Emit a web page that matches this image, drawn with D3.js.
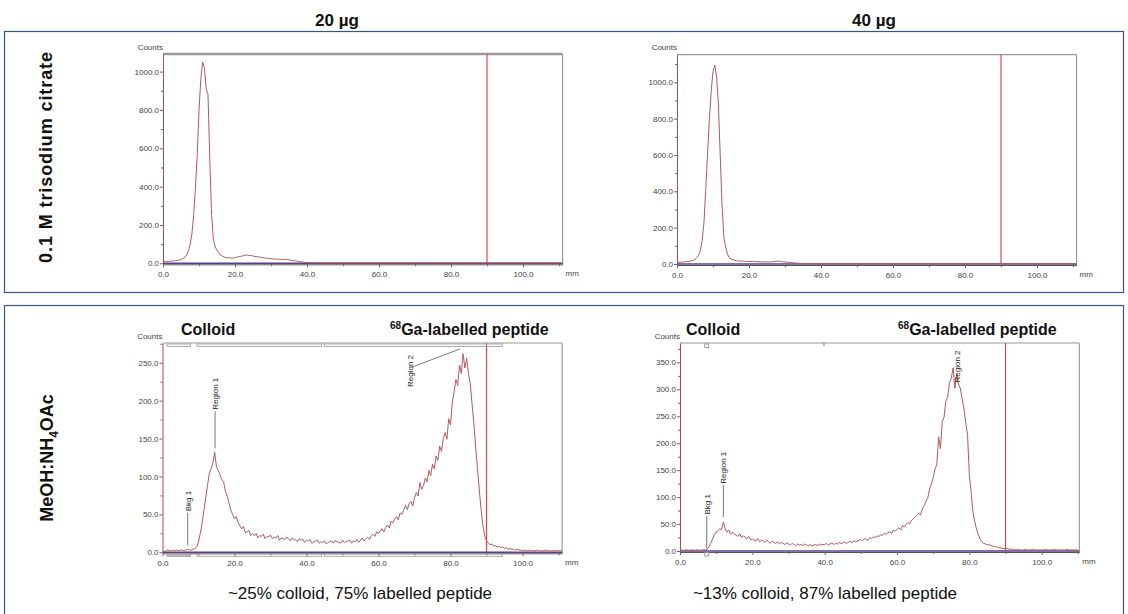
<!DOCTYPE html>
<html>
<head>
<meta charset="utf-8">
<script src="https://cdn.jsdelivr.net/npm/d3@7"></script>
<style>
body { margin: 0; background: #fff; }
svg { display: block; font-family: "Liberation Sans", Arial, sans-serif; }
</style>
</head>
<body>
<div id="chart"></div>
<script>
// strip position step (mm) between two readings
var step = 0.5;

var columnTitles = ["20 µg", "40 µg"];
var captions = ["~25% colloid, 75% labelled peptide", "~13% colloid, 87% labelled peptide"];
var xTicks = [0, 20, 40, 60, 80, 100];
var xMinorTicks = [10, 30, 50, 70, 90, 110];
var yTicksCitrate = [0, 200, 400, 600, 800, 1000];
var yTicksMeoh20 = [0, 50, 100, 150, 200, 250];
var yTicksMeoh40 = [0, 50, 100, 150, 200, 250, 300, 350];
var originLine = 90;

// regions of interest on the 20 µg MeOH:NH4OAc strip (mm)
var regions20 = [[1.3, 7.8], [9.6, 44.2], [44.9, 94.4]];
var bkg40 = 7.4, split40 = 39.8;

// counts read every 0.5 mm from 0 mm
var citrate20 = [
  8, 9, 10, 10, 11, 12, 12, 14, 15, 17,
  20, 24, 30, 42, 62, 95, 150, 250, 390, 560,
  800, 960, 1050, 1020, 910, 880, 540, 250, 125, 85,
  68, 55, 42, 38, 33, 30, 28, 30, 26, 27,
  30, 32, 34, 36, 38, 40, 44, 42, 40, 41,
  38, 36, 35, 33, 32, 30, 28, 27, 26, 25,
  24, 23, 22, 22, 21, 21, 20, 20, 21, 19,
  18, 16, 15, 13, 12, 10, 9, 7, 6, 5,
  4, 3, 3, 2, 3, 2, 2, 3, 2, 2,
  2, 2, 2, 2, 2, 2, 2, 2, 2, 2,
  2, 2, 2, 2, 2, 2, 2, 2, 2, 2,
  2, 2, 2, 2, 2, 2, 2, 2, 2, 2,
  2, 2, 2, 2, 2, 2, 2, 2, 2, 2,
  2, 2, 2, 2, 2, 2, 2, 2, 2, 2,
  2, 2, 2, 2, 2, 2, 2, 2, 2, 2,
  2, 2, 2, 2, 2, 2, 2, 2, 2, 2,
  2, 2, 2, 2, 2, 2, 2, 2, 2, 2,
  2, 2, 2, 2, 2, 2, 2, 2, 2, 2,
  2, 2, 2, 2, 2, 2, 2, 2, 2, 2,
  2, 2, 2, 2, 2, 2, 2, 2, 2, 2,
  2, 2, 2, 2, 2, 2, 2, 2, 2, 2,
  2, 2, 2, 2, 2, 2, 2, 2, 2, 2,
  2, 2, 2
];

var citrate40 = [
  8, 9, 10, 10, 12, 13, 14, 15, 18, 20,
  26, 35, 48, 75, 130, 230, 420, 610, 800, 950,
  1060, 1095, 1030, 880, 600, 330, 150, 95, 55, 35,
  28, 24, 20, 18, 17, 16, 15, 16, 14, 15,
  14, 13, 15, 13, 12, 13, 12, 11, 12, 11,
  12, 11, 12, 13, 12, 14, 16, 15, 13, 12,
  11, 10, 9, 8, 7, 6, 5, 4, 4, 3,
  3, 3, 2, 3, 2, 2, 2, 2, 2, 2,
  2, 2, 2, 2, 2, 2, 2, 2, 2, 2,
  2, 2, 2, 2, 2, 2, 2, 2, 2, 2,
  2, 2, 2, 2, 2, 2, 2, 2, 2, 2,
  2, 2, 2, 2, 2, 2, 2, 2, 2, 2,
  2, 2, 2, 2, 2, 2, 2, 2, 2, 2,
  2, 2, 2, 2, 2, 2, 2, 2, 2, 2,
  2, 2, 2, 2, 2, 2, 2, 2, 2, 2,
  2, 2, 2, 2, 2, 2, 2, 2, 2, 2,
  2, 2, 2, 2, 2, 2, 2, 2, 2, 2,
  2, 2, 2, 2, 2, 2, 2, 2, 2, 2,
  2, 2, 2, 2, 2, 2, 2, 2, 2, 2,
  2, 2, 2, 2, 2, 2, 2, 2, 2, 2,
  2, 2, 2, 2, 2, 2, 2, 2, 2, 2,
  2, 2, 2, 2, 2, 2, 2, 2, 2, 2,
  2, 2, 2
];

var meoh20 = [
  2, 1, 2, 3, 2, 2, 3, 2, 3, 2,
  3, 3, 2, 3, 4, 3, 3, 4, 5, 7,
  14, 25, 38, 55, 72, 88, 104, 110, 118, 132,
  112, 108, 102, 96, 92, 80, 74, 64, 55, 50,
  44, 47, 39, 35, 31, 34, 26, 27, 29, 22,
  25, 22, 25, 19, 22, 21, 24, 18, 21, 20,
  23, 18, 20, 19, 22, 16, 19, 18, 17, 20,
  18, 15, 19, 17, 16, 14, 18, 16, 17, 13,
  16, 15, 17, 12, 14, 15, 16, 12, 14, 13,
  15, 11, 13, 14, 15, 12, 16, 14, 13, 12,
  16, 13, 14, 15, 16, 12, 15, 14, 17, 13,
  16, 19, 15, 18, 20, 17, 22, 24, 21, 27,
  25, 28, 31, 27, 33, 36, 32, 41, 39, 44,
  47, 43, 52, 50, 55, 62, 56, 64, 67, 61,
  72, 79, 74, 92, 83, 88, 98, 93, 108, 101,
  116, 110, 127, 121, 140, 133, 150, 158, 149, 176,
  168, 198, 212, 228, 220, 247, 236, 262, 243, 256,
  236, 222, 195, 170, 138, 110, 82, 56, 35, 22,
  15, 12, 10, 11, 8, 9, 7, 8, 6, 7,
  5, 6, 4, 5, 4, 4, 3, 4, 3, 3,
  2, 3, 2, 2, 3, 2, 2, 2, 3, 2,
  2, 2, 2, 3, 2, 2, 2, 2, 2, 2,
  2, 2, 2
];

var meoh40 = [
  1, 2, 1, 2, 2, 1, 2, 2, 1, 2,
  2, 1, 2, 2, 2, 3, 8, 14, 22, 30,
  35, 38, 41, 40, 54, 41, 35, 39, 31, 35,
  32, 30, 27, 32, 25, 28, 26, 23, 27, 21,
  22, 20, 19, 23, 17, 20, 19, 16, 20, 17,
  15, 18, 16, 14, 17, 13, 16, 14, 12, 15,
  13, 11, 14, 12, 10, 13, 11, 12, 10, 13,
  11, 10, 12, 9, 11, 12, 10, 13, 11, 12,
  12, 14, 11, 13, 15, 12, 14, 13, 16, 14,
  15, 17, 14, 16, 18, 15, 19, 17, 18, 20,
  21, 19, 23, 22, 20, 25, 23, 26, 25, 28,
  27, 30, 29, 33, 31, 34, 36, 33, 39, 37,
  40, 43, 39, 47, 45, 49, 53, 50, 57, 60,
  63, 66, 70, 67, 78, 84, 92, 98, 115, 124,
  136, 152, 160, 212, 190, 240, 248, 278, 285, 312,
  320, 340, 302, 328, 310, 302, 282, 265, 238, 216,
  140, 110, 72, 55, 40, 30, 22, 17, 14, 13,
  11, 12, 10, 9, 8, 8, 6, 7, 5, 5,
  4, 5, 3, 4, 2, 3, 2, 3, 2, 2,
  2, 3, 2, 2, 2, 3, 2, 2, 2, 2,
  2, 2, 3, 2, 2, 2, 2, 3, 2, 2,
  2, 2, 2, 2, 3, 2, 2, 2, 2, 2,
  2
];

var W = 1128, H = 614;
var svg = d3.select("#chart").append("svg")
    .attr("width", W)
    .attr("height", H);

var boxColor = "#34548a";
var curveColor = "#b25a5e";

// outer boxes around each row
svg.append("rect").attr("x", 4.5).attr("y", 31.5).attr("width", 1119).attr("height", 261)
    .attr("fill", "none").attr("stroke", boxColor).attr("stroke-width", 1.2);
svg.append("rect").attr("x", 4.5).attr("y", 305.5).attr("width", 1119).attr("height", 320)
    .attr("fill", "none").attr("stroke", boxColor).attr("stroke-width", 1.2);

// column titles
svg.selectAll(".coltitle")
    .data(columnTitles)
    .enter().append("text")
    .attr("class", "coltitle")
    .attr("x", function (d, i) { return i === 0 ? 337 : 874; })
    .attr("y", 26)
    .attr("text-anchor", "middle")
    .style("font-family", "'Liberation Sans Narrow', 'Liberation Sans', Arial, sans-serif")
    .style("font-weight", "bold")
    .style("font-size", "17px")
    .attr("fill", "#111")
    .text(function (d) { return d; });

// row titles (rotated)
svg.append("text")
    .attr("transform", "translate(52,157) rotate(-90)")
    .attr("text-anchor", "middle")
    .style("font-weight", "bold")
    .style("font-size", "18px")
    .style("letter-spacing", "0.9px")
    .attr("fill", "#111")
    .text("0.1 M trisodium citrate");

var rowT = svg.append("text")
    .attr("transform", "translate(53,458) rotate(-90)")
    .attr("text-anchor", "middle")
    .style("font-weight", "bold")
    .style("font-size", "18px")
    .attr("fill", "#111");
rowT.append("tspan").text("MeOH:NH");
rowT.append("tspan").attr("dy", 5).style("font-size", "12px").text("4");
rowT.append("tspan").attr("dy", -5).text("OAc");

// captions
svg.selectAll(".caption")
    .data(captions)
    .enter().append("text")
    .attr("class", "caption")
    .attr("x", function (d, i) { return i === 0 ? 360 : 825; })
    .attr("y", 599)
    .attr("text-anchor", "middle")
    .style("font-size", "17px")
    .attr("fill", "#111")
    .text(function (d) { return d; });

function drawPanel(p) {
    var x = d3.scaleLinear().domain([0, p.xMax]).range([p.left, p.right]);
    var y = d3.scaleLinear().domain([0, p.yMax]).range([p.base, p.top]);
    var g = svg.append("g");

    // frame top and right
    g.append("line")
        .attr("x1", p.left).attr("x2", p.right)
        .attr("y1", p.top).attr("y2", p.top)
        .attr("stroke", "#9a9a9a").attr("stroke-width", p.topWidth);
    g.append("line")
        .attr("x1", p.right).attr("x2", p.right)
        .attr("y1", p.top).attr("y2", p.base + 1)
        .attr("stroke", "#8a8a8a").attr("stroke-width", 1);

    // x axis
    var xAxis = g.append("g")
        .attr("transform", "translate(0," + (p.base + 1) + ")")
        .call(d3.axisBottom(x).tickValues(xTicks).tickFormat(d3.format(".1f"))
            .tickSize(3).tickSizeOuter(0).tickPadding(4));
    g.append("g")
        .attr("transform", "translate(0," + (p.base + 1) + ")")
        .call(d3.axisBottom(x).tickValues(xMinorTicks.filter(function (t) { return t < p.xMax; }))
            .tickFormat("").tickSize(2).tickSizeOuter(0))
        .select(".domain").remove();
    xAxis.select(".domain").attr("stroke", "#555");

    // y axis
    var yStepMinor = (p.yTicks[1] - p.yTicks[0]) / 2;
    var minor = d3.range(yStepMinor, p.yMax, yStepMinor * 2);
    g.append("g")
        .attr("transform", "translate(" + p.left + ",0)")
        .call(d3.axisLeft(y).tickValues(minor).tickFormat("").tickSize(2).tickSizeOuter(0))
        .select(".domain").remove();
    var yAxis = g.append("g")
        .attr("transform", "translate(" + p.left + ",0)")
        .call(d3.axisLeft(y).tickValues(p.yTicks).tickFormat(d3.format(".1f"))
            .tickSize(3).tickSizeOuter(0).tickPadding(1));
    yAxis.select(".domain").attr("stroke", "#b24a4e");

    g.selectAll(".tick text").attr("fill", "#444").style("font-size", "8px")
        .style("font-family", "'Liberation Sans', Arial, sans-serif");
    g.selectAll(".tick line").attr("stroke", "#666");

    // labels
    g.append("text").attr("x", p.left).attr("y", p.top - 4.5)
        .attr("text-anchor", "end").style("font-size", "8px").attr("fill", "#444")
        .text("Counts");
    g.append("text").attr("x", p.right + 3).attr("y", p.base + 13)
        .style("font-size", "8px").attr("fill", "#444")
        .text("mm");

    // origin / front marker
    g.append("line")
        .attr("x1", x(originLine)).attr("x2", x(originLine))
        .attr("y1", p.top).attr("y2", p.base)
        .attr("stroke", "#e0474c").attr("stroke-width", 1.2);

    // zero baseline
    g.append("line")
        .attr("x1", p.left).attr("x2", p.right)
        .attr("y1", y(0)).attr("y2", y(0))
        .attr("stroke", "#5a3f8e").attr("stroke-width", 1.6);

    // clip the trace to the plot box
    var clipId = "clip" + p.id;
    svg.append("clipPath").attr("id", clipId)
        .append("rect").attr("x", p.left).attr("y", p.top)
        .attr("width", p.right - p.left).attr("height", p.base - p.top + 1);

    var line = d3.line()
        .x(function (d, i) { return x(i * step); })
        .y(function (d) { return y(d); });

    g.append("path")
        .datum(p.data)
        .attr("clip-path", "url(#" + clipId + ")")
        .attr("fill", "none")
        .attr("stroke", curveColor)
        .attr("stroke-width", 1)
        .attr("d", line);

    return { g: g, x: x, y: y };
}

var p1 = drawPanel({ id: 1, data: citrate20, left: 163, right: 562.6, top: 54, base: 263.3,
    xMax: 111, yMax: 1092, yTicks: yTicksCitrate, topWidth: 2.5 });
var p2 = drawPanel({ id: 2, data: citrate40, left: 677, right: 1076.6, top: 54.7, base: 264,
    xMax: 111, yMax: 1152, yTicks: yTicksCitrate, topWidth: 1.2 });
var p3 = drawPanel({ id: 3, data: meoh20, left: 162.5, right: 562.1, top: 343, base: 552.3,
    xMax: 111, yMax: 276, yTicks: yTicksMeoh20, topWidth: 1.2 });
var p4 = drawPanel({ id: 4, data: meoh40, left: 680, right: 1079.3, top: 343, base: 551,
    xMax: 110.4, yMax: 386, yTicks: yTicksMeoh40, topWidth: 1.2 });

// region brackets on the 20 µg MeOH strip
regions20.forEach(function (r, i) {
    [p3.y.range()[1] + 1, p3.y.range()[0] + 1.5].forEach(function (yy, k) {
        p3.g.append("rect")
            .attr("x", p3.x(r[0])).attr("y", yy)
            .attr("width", p3.x(r[1]) - p3.x(r[0])).attr("height", 2.5)
            .attr("fill", (i === 0 && k === 1) ? "#b8b8b8" : "none")
            .attr("stroke", "#9a9a9a").attr("stroke-width", 0.8);
    });
});

// markers on the 40 µg MeOH strip
[p4.y.range()[1] + 1, p4.y.range()[0] + 1.5].forEach(function (yy) {
    p4.g.append("rect")
        .attr("x", p4.x(bkg40) - 2).attr("y", yy)
        .attr("width", 4).attr("height", 3.5)
        .attr("fill", "#fff").attr("stroke", "#888").attr("stroke-width", 0.8);
});
p4.g.append("line")
    .attr("x1", p4.x(split40)).attr("x2", p4.x(split40))
    .attr("y1", p4.y.range()[1]).attr("y2", p4.y.range()[1] + 3)
    .attr("stroke", "#777");

// rotated peak labels with leader lines
function peakLabel(p, label, mm, from, to) {
    var xx = p.x(mm);
    if (from !== null) {
        p.g.append("line")
            .attr("x1", xx).attr("x2", xx)
            .attr("y1", p.y(from)).attr("y2", p.y(to))
            .attr("stroke", "#555").attr("stroke-width", 0.8);
    }
    p.g.append("text")
        .attr("transform", "translate(" + (xx + 3) + "," + (p.y(to) - 1.5) + ") rotate(-90)")
        .style("font-size", "8px").attr("fill", "#222")
        .text(label);
}

peakLabel(p3, "Bkg 1", 7.0, 9, 52);
peakLabel(p3, "Region 1", 14.6, 137, 186);
// Region 2 label sits to the left, joined by a slanted leader
p3.g.append("line")
    .attr("x1", p3.x(69.2)).attr("y1", p3.y(244))
    .attr("x2", p3.x(82.6)).attr("y2", p3.y(268))
    .attr("stroke", "#555").attr("stroke-width", 0.8);
p3.g.append("text")
    .attr("transform", "translate(" + (p3.x(68.75) + 3) + "," + p3.y(218) + ") rotate(-90)")
    .style("font-size", "8px").attr("fill", "#222")
    .text("Region 2");

peakLabel(p4, "Bkg 1", 7.4, 5, 65);
peakLabel(p4, "Region 1", 12.0, 63, 122);
peakLabel(p4, "Region 2", 76.7, null, 310);

// species annotations above the MeOH panels
function speciesLabels(p, colloidX, peptideX) {
    p.g.append("text")
        .attr("x", colloidX).attr("y", 335)
        .style("font-size", "16px").style("font-weight", "bold").attr("fill", "#111")
        .text("Colloid");
    var t = p.g.append("text")
        .attr("x", peptideX).attr("y", 335)
        .style("font-size", "16px").style("font-weight", "bold").attr("fill", "#111");
    t.append("tspan").attr("dy", -6).style("font-size", "10px").text("68");
    t.append("tspan").attr("dy", 6).text("Ga-labelled peptide");
}
speciesLabels(p3, 181, 390);
speciesLabels(p4, 686, 898);
</script>
</body>
</html>
